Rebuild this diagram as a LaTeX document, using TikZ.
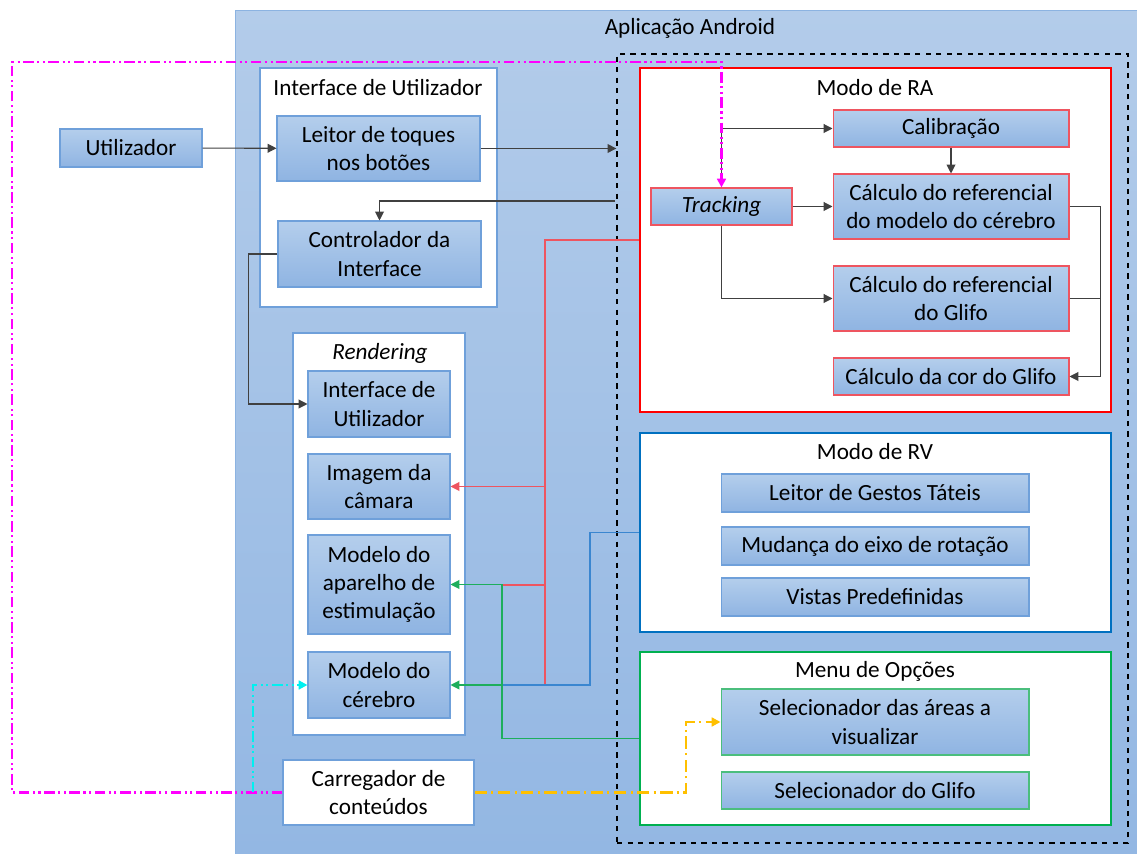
\documentclass[tikz,border=0pt]{standalone}
\usepackage{fontspec}
\setmainfont{Carlito}
\usetikzlibrary{arrows.meta}
\definecolor{blktop}{HTML}{B4CEEC}
\definecolor{blkbot}{HTML}{8FB4E2}
\definecolor{blkline}{HTML}{6FA0DA}
\definecolor{apptop}{HTML}{B3CCEA}
\definecolor{appbot}{HTML}{93B7E3}
\definecolor{rabox}{HTML}{FF0000}
\definecolor{rvbox}{HTML}{0070C0}
\definecolor{menubox}{HTML}{00B050}
\definecolor{ralin}{HTML}{EE5560}
\definecolor{rvlin}{HTML}{3A86D0}
\definecolor{menulin}{HTML}{1EAE5C}
\definecolor{conn}{HTML}{404040}
\definecolor{mag}{HTML}{FF00FF}
\definecolor{cya}{HTML}{00F0F0}
\definecolor{yel}{HTML}{FFC000}
\begin{document}
\begin{tikzpicture}[x=0.02cm,y=-0.02cm,
    every node/.style={font=\fontsize{13.2}{16}\selectfont,align=center,inner sep=0pt},
    blk/.style={draw=blkline,line width=0.6pt,top color=blktop,bottom color=blkbot},
    rablk/.style={blk,draw=ralin},
    menublk/.style={blk,draw=menulin!80},
    frame/.style={draw=blkline,line width=0.8pt,fill=white},
    arr/.style={-{Triangle[length=5pt,width=5pt]}},
    wire/.style={draw=conn,line width=0.6pt},
    dashdotdot/.style={line width=1.3pt,dash pattern=on 6pt off 2pt on 1.2pt off 2pt on 1.2pt off 2pt},
    dashdot/.style={line width=1.3pt,dash pattern=on 7pt off 2.5pt on 1.2pt off 2.5pt}]
  \useasboundingbox (0,0) rectangle (1137,854);
  % main app area
  \node[draw=blkline!80,top color=apptop,bottom color=appbot,minimum width=18.04cm,minimum height=16.88cm] (android) at (686,432) {};
  \node (androidtitle) at (690,28) {Aplicação Android};
  \node[draw=black,dashed,line width=0.8pt,minimum width=10.22cm,minimum height=15.78cm] (app) at (872.5,448.5) {};
  % outside user
  \node[blk,minimum width=2.84cm,minimum height=0.76cm] (user) at (131,148) {Utilizador};
  % user interface
  \node[frame,minimum width=4.74cm,minimum height=4.78cm] (ui) at (378.5,187.5) {};
  \node (uititle) at (378,88) {Interface de Utilizador};
  \node[blk,minimum width=4.06cm,minimum height=1.30cm] (leitor) at (378.5,148.5) {Leitor de toques\\nos botões};
  \node[blk,minimum width=4.06cm,minimum height=1.32cm] (ctrl) at (379.5,254) {Controlador da\\Interface};
  % rendering
  \node[frame,minimum width=3.44cm,minimum height=8.04cm] (rend) at (379,534) {};
  \node (rendtitle) at (380,353) {\itshape Rendering};
  \node[blk,minimum width=2.84cm,minimum height=1.32cm] (rui) at (379,404) {Interface de\\Utilizador};
  \node[blk,minimum width=2.84cm,minimum height=1.30cm] (imagem) at (379,486.5) {Imagem da\\câmara};
  \node[blk,minimum width=2.84cm,minimum height=1.98cm] (aparelho) at (379,584.5) {Modelo do\\aparelho de\\estimulação};
  \node[blk,minimum width=2.84cm,minimum height=1.32cm] (cerebro) at (379,685) {Modelo do\\cérebro};
  \node[frame,minimum width=3.82cm,minimum height=1.30cm] (carreg) at (378.5,792.5) {Carregador de\\conteúdos};
  % modo RA
  \node[draw=rabox,line width=1.3pt,fill=white,minimum width=9.42cm,minimum height=6.88cm] (ra) at (875.5,240) {};
  \node (ratitle) at (875,88) {Modo de RA};
  \node[rablk,minimum width=2.82cm,minimum height=0.74cm] (tracking) at (721.5,206.5) {\itshape Tracking};
  \node[rablk,minimum width=4.72cm,minimum height=0.74cm] (calib) at (951,128.5) {Calibração};
  \node[rablk,minimum width=4.72cm,minimum height=1.30cm] (refmod) at (951,206.5) {Cálculo do referencial\\do modelo do cérebro};
  \node[rablk,minimum width=4.72cm,minimum height=1.30cm] (refgli) at (951,298.5) {Cálculo do referencial\\do Glifo};
  \node[rablk,minimum width=4.72cm,minimum height=0.74cm] (cor) at (951,376.5) {Cálculo da cor do Glifo};
  % modo RV
  \node[draw=rvbox,line width=1.3pt,fill=white,minimum width=9.42cm,minimum height=3.98cm] (rv) at (875.5,532.5) {};
  \node (rvtitle) at (875,452) {Modo de RV};
  \node[blk,minimum width=6.16cm,minimum height=0.76cm] (gestos) at (875,493) {Leitor de Gestos Táteis};
  \node[blk,minimum width=6.16cm,minimum height=0.76cm] (eixo) at (875,546) {Mudança do eixo de rotação};
  \node[blk,minimum width=6.16cm,minimum height=0.76cm] (vistas) at (875,597) {Vistas Predefinidas};
  % menu
  \node[draw=menubox,line width=1.3pt,fill=white,minimum width=9.42cm,minimum height=3.46cm] (menu) at (875.5,738.5) {};
  \node (menutitle) at (875,671) {Menu de Opções};
  \node[menublk,minimum width=6.16cm,minimum height=1.32cm] (selareas) at (875,722) {Selecionador das áreas a\\visualizar};
  \node[menublk,minimum width=6.16cm,minimum height=0.74cm] (selgli) at (875,790.5) {Selecionador do Glifo};
  % black connectors
  \draw[wire,arr] (user) -- (leitor);
  \draw[wire,arr] (leitor.east) -- (leitor.east -| app.west);
  \coordinate (back) at (615,201);
  \draw[wire,arr] (back) -| (ctrl.north);
  \draw[wire,arr] (ctrl.west) -- ++(-29,0) |- (rui.west);
  \draw[wire,arr] (tracking.north) |- (calib.west);
  \draw[wire,arr] (tracking.east) -- (refmod.west);
  \draw[wire,arr] (tracking.south) |- (refgli.west);
  \draw[wire,arr] (calib.south) -- (refmod.north);
  \draw[wire,arr] (refmod.east) -- ++(31,0) |- (cor.east);
  \draw[wire] (refgli.east) -- ++(31,0);
  % coloured connectors
  \draw[ralin,line width=0.6pt] (ra.west) -- (545,240) -- (545,685) -- (502,685);
  \draw[ralin,line width=0.6pt] (545,585) -- (502,585);
  \draw[ralin,line width=0.6pt,arr] (545,486.5) -- (imagem.east);
  \draw[rvlin,line width=0.6pt] (rv.west) -- (590,532.5) |- (502,685);
  \draw[menulin,line width=0.6pt,arr] (menu.west) -| (502,584.5) -- (aparelho.east);
  \draw[menulin,line width=0.6pt,arr] (502,685) -- (cerebro.east);
  % loading paths
  \draw[mag,dashdotdot,arr] (carreg.west) -- (12,792.5) -- (12,62) -| (tracking.north);
  \coordinate (cyanstart) at (253,792.5);
  \draw[cya,dashdotdot,arr] (cyanstart) |- (cerebro.west);
  \draw[yel,dashdot,arr] (carreg.east) -- (686,792.5) |- (selareas.west);
\end{tikzpicture}
\end{document}
